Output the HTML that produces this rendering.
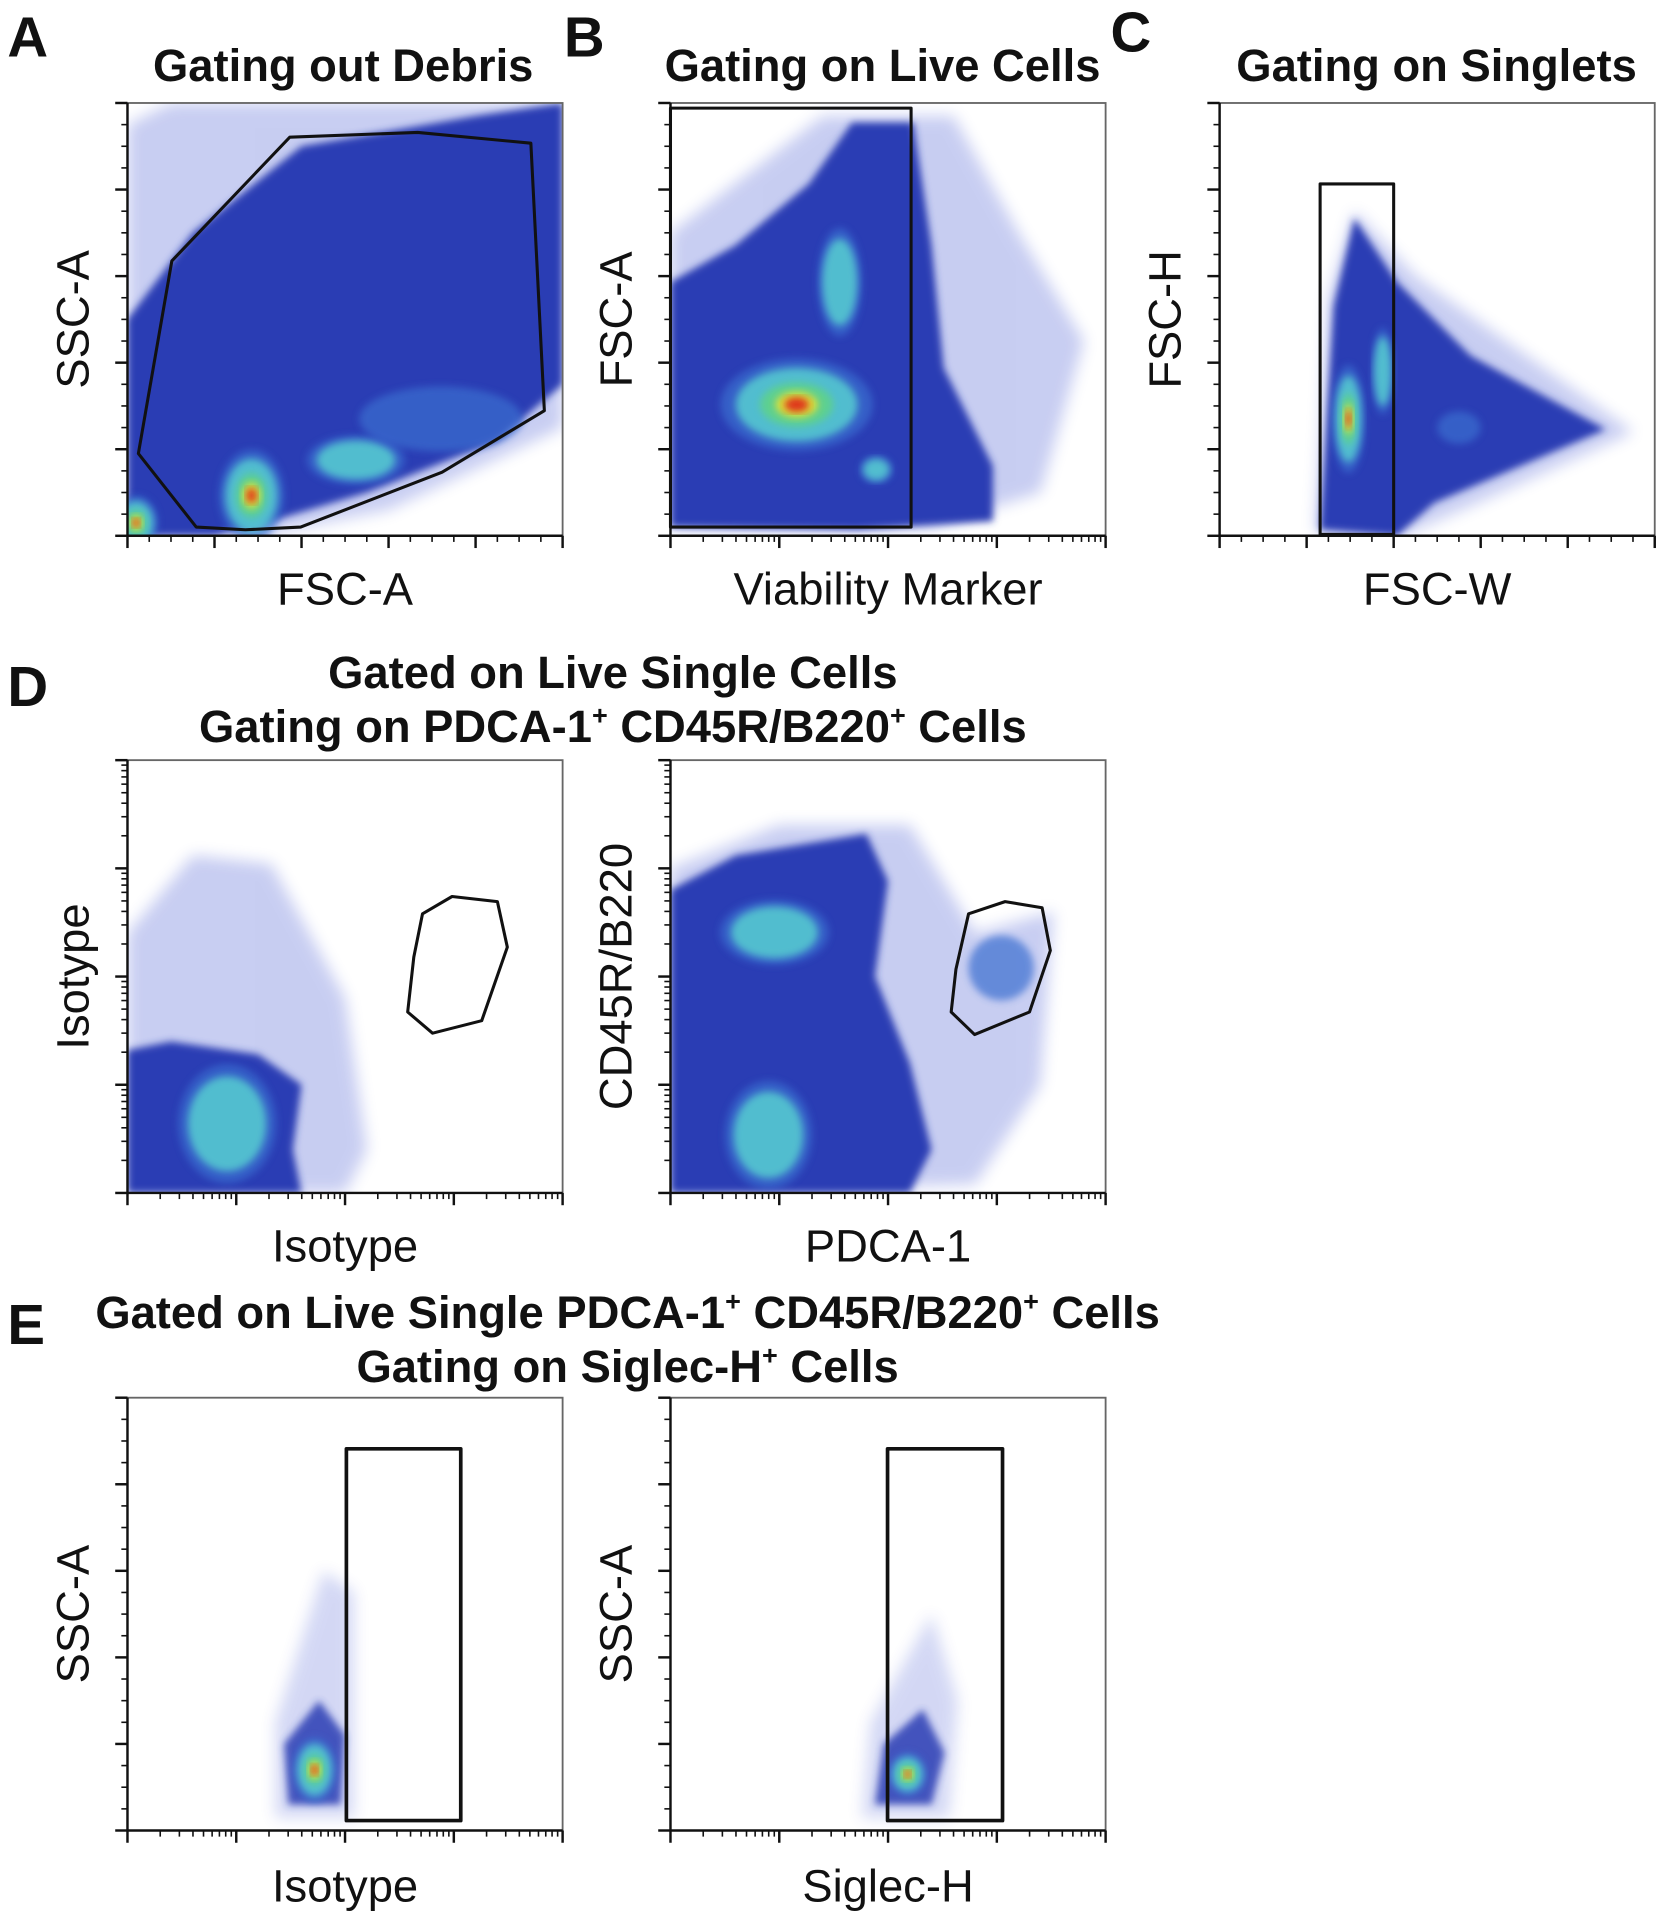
<!DOCTYPE html>
<html><head><meta charset="utf-8"><style>
html,body{margin:0;padding:0;background:#fff;}
svg{display:block;}
text{font-family:"Liberation Sans",Arial,sans-serif;fill:#111;}
.t{font-weight:bold;font-size:37px;text-anchor:middle;}
.L{font-weight:bold;font-size:46px;}
.ax{font-size:37px;text-anchor:middle;}
</style></head><body>
<svg id="fig" width="1667" height="1920" viewBox="0 0 1360 1566" preserveAspectRatio="none" xmlns="http://www.w3.org/2000/svg">
<defs>
<filter id="b3" x="-20%" y="-20%" width="140%" height="140%"><feGaussianBlur stdDeviation="3"/></filter>
<filter id="b6" x="-50%" y="-50%" width="200%" height="200%"><feGaussianBlur stdDeviation="6"/></filter>
</defs>
<text class="L" x="6" y="46">A</text>
<text class="L" x="460" y="46">B</text>
<text class="L" x="906" y="42">C</text>
<text class="L" x="6" y="576">D</text>
<text class="L" x="6" y="1096">E</text>
<text class="t" x="280" y="66">Gating out Debris</text>
<text class="t" x="720" y="66">Gating on Live Cells</text>
<text class="t" x="1172" y="66">Gating on Singlets</text>
<text class="t" x="500" y="561">Gated on Live Single Cells</text>
<text class="t" x="500" y="605">Gating on PDCA-1<tspan font-size="22" dy="-14">+</tspan><tspan dy="14"> CD45R/B220</tspan><tspan font-size="22" dy="-14">+</tspan><tspan dy="14"> Cells</tspan></text>
<text class="t" x="512" y="1083">Gated on Live Single PDCA-1<tspan font-size="22" dy="-14">+</tspan><tspan dy="14"> CD45R/B220</tspan><tspan font-size="22" dy="-14">+</tspan><tspan dy="14"> Cells</tspan></text>
<text class="t" x="512" y="1127">Gating on Siglec-H<tspan font-size="22" dy="-14">+</tspan><tspan dy="14"> Cells</tspan></text>
</svg>
<script>
// ---- data (data units: x,y in 0..1 of each plot's axis range) ----
const panelNames = ["a","b","c","d1","d2","e1","e2"];
const xLabels = ["FSC-A","Viability Marker","FSC-W","Isotype","PDCA-1","Isotype","Siglec-H"];
const yLabels = ["SSC-A","FSC-A","FSC-H","Isotype","CD45R/B220","SSC-A","SSC-A"];
const xLog = [false,true,false,true,true,true,true];
const yLog = [false,false,false,true,true,false,false];
// sparse (light) clouds
const sparseClouds = [
 [[0,0],[0,0.95],[0.1,1],[1,1],[1,0.25],[0.6,0.06],[0.3,0]],
 [[0,0.02],[0,0.7],[0.35,0.97],[0.65,0.97],[0.8,0.7],[0.95,0.45],[0.85,0.1],[0.6,0.02]],
 [[0.22,0.01],[0.25,0.55],[0.31,0.75],[0.45,0.6],[0.95,0.24],[0.6,0.08],[0.42,0]],
 [[0,0],[0,0.6],[0.15,0.78],[0.33,0.76],[0.5,0.45],[0.55,0.1],[0.5,0]],
 [[0,0],[0,0.75],[0.25,0.85],[0.55,0.85],[0.7,0.6],[0.88,0.65],[0.85,0.25],[0.7,0.02]],
 [[0.34,0.03],[0.34,0.25],[0.45,0.6],[0.52,0.55],[0.52,0.03]],
 [[0.44,0.03],[0.46,0.25],[0.6,0.5],[0.66,0.3],[0.64,0.03]]
];
// dense blue clouds
const denseClouds = [
 [[0,0],[0,0.5],[0.15,0.7],[0.4,0.9],[0.8,0.97],[1,1],[1,0.35],[0.85,0.22],[0.55,0.1],[0.35,0.04],[0.2,0]],
 [[0,0.02],[0,0.586],[0.149,0.671],[0.318,0.813],[0.417,0.955],[0.558,0.955],[0.6,0.671],[0.628,0.388],[0.741,0.161],[0.741,0.034],[0.431,0.014]],
 [[0.231,0.014],[0.262,0.53],[0.31,0.734],[0.408,0.586],[0.577,0.416],[0.887,0.246],[0.69,0.161],[0.493,0.076],[0.408,0]],
 [[0,0],[0,0.33],[0.1,0.35],[0.3,0.32],[0.4,0.25],[0.38,0.1],[0.4,0]],
 [[0,0],[0,0.7],[0.15,0.78],[0.45,0.83],[0.5,0.72],[0.47,0.5],[0.55,0.3],[0.6,0.1],[0.55,0]],
 [[0.37,0.06],[0.36,0.2],[0.44,0.3],[0.5,0.22],[0.49,0.06]],
 [[0.47,0.06],[0.49,0.2],[0.58,0.28],[0.63,0.18],[0.6,0.06]]
];
// hotspots: [panel, cx, cy, rx, ry, level] level 0=light blue,1=cyan,2=green,3=red
const hotspots = [
 [0,0.285,0.093,0.06,0.085,3],[0,0.525,0.175,0.09,0.045,1],[0,0.02,0.03,0.04,0.05,3],[0,0.72,0.27,0.15,0.06,0],
 [1,0.29,0.303,0.14,0.085,3],[1,0.389,0.586,0.04,0.1,1],[1,0.473,0.153,0.03,0.025,1],
 [2,0.296,0.27,0.03,0.1,3],[2,0.375,0.38,0.02,0.08,1],[2,0.55,0.25,0.04,0.03,0],
 [3,0.229,0.16,0.09,0.11,1],
 [4,0.239,0.602,0.1,0.06,1],[4,0.225,0.134,0.08,0.1,1],[4,0.76,0.52,0.06,0.06,0],
 [5,0.43,0.14,0.04,0.06,3],
 [6,0.545,0.13,0.035,0.04,3]
];
const gates = [
 [[0.373,0.921],[0.667,0.932],[0.927,0.907],[0.958,0.289],[0.723,0.147],[0.398,0.02],[0.271,0.014],[0.158,0.02],[0.025,0.19],[0.102,0.635]],
 [[0,0.02],[0.553,0.02],[0.553,0.988],[0,0.988]],
 [[0.231,0.003],[0.4,0.003],[0.4,0.813],[0.231,0.813]],
 [[0.678,0.645],[0.746,0.685],[0.85,0.673],[0.873,0.568],[0.814,0.398],[0.701,0.369],[0.644,0.418],[0.658,0.545]],
 [[0.685,0.645],[0.769,0.673],[0.854,0.659],[0.873,0.56],[0.825,0.418],[0.699,0.366],[0.645,0.418],[0.656,0.517]],
 [[0.503,0.023],[0.766,0.023],[0.766,0.882],[0.503,0.882]],
 [[0.499,0.023],[0.763,0.023],[0.763,0.882],[0.499,0.882]]
];
// ---- layout ----
const boxes = [[104,84],[547,84],[995,84],[104,620],[547,620],[104,1140],[547,1140]];
const BW=355, BH=353;
const NS="http://www.w3.org/2000/svg";
const svg=document.getElementById('fig');
function mk(tag,attrs,parent){const e=document.createElementNS(NS,tag);for(const k in attrs)e.setAttribute(k,attrs[k]);(parent||svg).appendChild(e);return e;}
function sx(p,v){return boxes[p][0]+v*BW;}
function sy(p,v){return boxes[p][1]+BH-v*BH;}
function pts(p,arr){return arr.map(d=>sx(p,d[0]).toFixed(1)+","+sy(p,d[1]).toFixed(1)).join(" ");}
panelNames.forEach((n,p)=>{
 const g=mk('g',{});
 
 
 const cp=mk('clipPath',{id:'cp'+p},g);
 mk('rect',{x:boxes[p][0],y:boxes[p][1],width:BW,height:BH},cp);
 const dg=mk('g',{'clip-path':'url(#cp'+p+')'},g);
 const s=mk('polygon',{points:pts(p,sparseClouds[p]),fill:'#3a4fd0',opacity:p>=5?0.22:0.28,filter:'url(#b6)'},dg);
 
 
 const d=mk('polygon',{points:pts(p,denseClouds[p]),fill:'#2b3cb4',filter:'url(#b3)',opacity:p>=5?0.85:1},dg);
 
 
 hotspots.filter(h=>h[0]===p).forEach(h=>{
  const layers=[['#3b6ed0',1.25],['#55c8d0',1.0],['#5fd28a',0.6],['#e8e030',0.35],['#e02418',0.2]];
  const nL=h[5]===0?1:(h[5]===1?2:(h[5]===2?3:5));
  for(let i=0;i<nL;i++){
   const e=mk('ellipse',{cx:sx(p,h[1]),cy:sy(p,h[2]),rx:h[3]*BW*layers[i][1],ry:h[4]*BH*layers[i][1],fill:layers[i][0],filter:'url(#b3)',opacity:i===0?0.7:0.9},dg);
   
   
  }
 });
 const gt=mk('polygon',{points:pts(p,gates[p]),fill:'none',stroke:'#111','stroke-width':p>=5?3:2.5,'stroke-linejoin':'round'},g);
 
 
 const [x0,y0]=boxes[p];
 const fr=mk('rect',{x:x0,y:y0,width:BW,height:BH,fill:'none',stroke:'#666','stroke-width':1.5},g);
 
 
 mk('line',{x1:x0,y1:y0,x2:x0,y2:y0+BH,stroke:'#111','stroke-width':2},g);
 mk('line',{x1:x0,y1:y0+BH,x2:x0+BW,y2:y0+BH,stroke:'#111','stroke-width':2},g);
 function tickList(log){const t=[];if(log){for(let d=0;d<4;d++){t.push([d/4,1]);for(let m=2;m<10;m++)t.push([(d+Math.log10(m))/4,0]);}t.push([1,1]);}else{for(let i=0;i<=20;i++)t.push([i/20,i%4===0?1:0]);}return t;}
 tickList(xLog[p]).forEach(t=>{const X=sx(p,t[0]);mk('line',{x1:X,y1:y0+BH,x2:X,y2:y0+BH+(t[1]?10:5),stroke:'#111','stroke-width':t[1]?2:1.3},g);});
 tickList(yLog[p]).forEach(t=>{const Y=sy(p,t[0]);mk('line',{x1:x0,y1:Y,x2:x0-(t[1]?10:5),y2:Y,stroke:'#111','stroke-width':t[1]?2:1.3},g);});
 const xl=mk('text',{class:'ax',x:x0+BW/2,y:y0+BH+(p>=5?58:56)},g);xl.textContent=xLabels[p];
 
 
 const yl=mk('text',{class:'ax',transform:'translate('+(x0-32)+','+(y0+BH/2)+') rotate(-90)'},g);yl.textContent=yLabels[p];
 
 
});
</script>
</body></html>
